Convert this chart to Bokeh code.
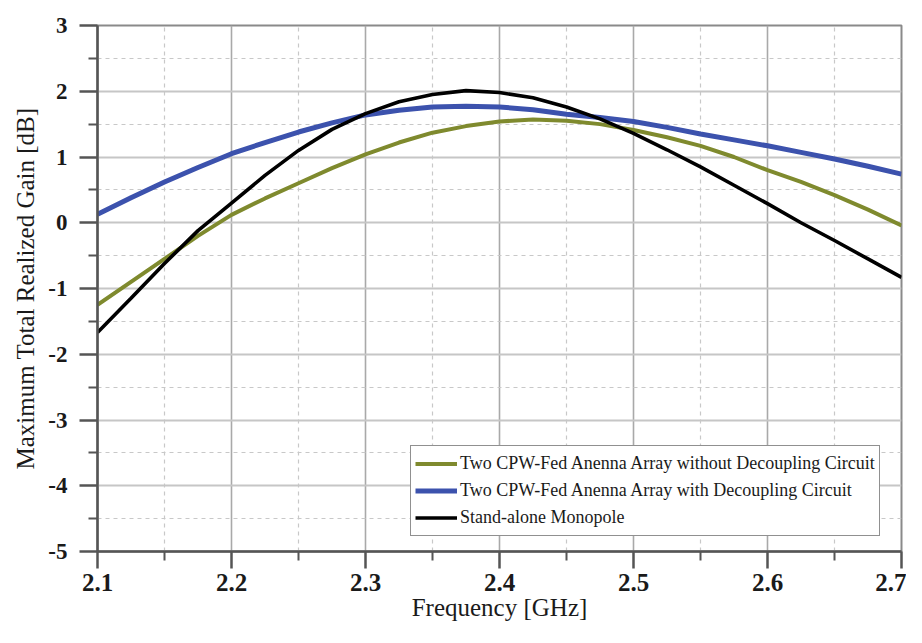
from bokeh.plotting import figure
from bokeh.models import FixedTicker, Range1d, Legend, LegendItem
from bokeh.embed import file_html
from bokeh.resources import INLINE

freq = [2.1, 2.125, 2.15, 2.175, 2.2, 2.225, 2.25, 2.275, 2.3, 2.325, 2.35, 2.375,
        2.4, 2.425, 2.45, 2.475, 2.5, 2.525, 2.55, 2.575, 2.6, 2.625, 2.65, 2.675, 2.7]

gain_without = [-1.25, -0.9, -0.55, -0.2, 0.12, 0.37, 0.6, 0.83, 1.04, 1.22, 1.37, 1.47,
                1.54, 1.57, 1.55, 1.5, 1.41, 1.3, 1.17, 1.0, 0.8, 0.62, 0.42, 0.2, -0.04]

gain_with = [0.13, 0.38, 0.62, 0.84, 1.05, 1.22, 1.38, 1.52, 1.64, 1.71, 1.76, 1.77,
             1.76, 1.72, 1.65, 1.6, 1.54, 1.45, 1.35, 1.26, 1.17, 1.07, 0.97, 0.86, 0.74]

gain_mono = [-1.67, -1.15, -0.62, -0.12, 0.3, 0.72, 1.1, 1.42, 1.66, 1.84, 1.95, 2.01,
             1.98, 1.9, 1.76, 1.58, 1.36, 1.11, 0.85, 0.57, 0.29, 0.0, -0.27, -0.55, -0.83]

x_ticks = [2.1, 2.2, 2.3, 2.4, 2.5, 2.6, 2.7]
x_tick_labels = ["2.1", "2.2", "2.3", "2.4", "2.5", "2.6", "2.7"]
x_minor = [2.15, 2.25, 2.35, 2.45, 2.55, 2.65]
y_ticks = [-5, -4, -3, -2, -1, 0, 1, 2, 3]
y_tick_labels = ["-5", "-4", "-3", "-2", "-1", "0", "1", "2", "3"]
y_minor = [-4.5, -3.5, -2.5, -1.5, -0.5, 0.5, 1.5, 2.5]

labels = ["Two CPW-Fed Anenna Array without Decoupling Circuit",
          "Two CPW-Fed Anenna Array with Decoupling Circuit",
          "Stand-alone Monopole"]
colors = ["#7f8a2e", "#3c52ad", "#000000"]
widths = [4, 5, 3.6]

p = figure(width=906, height=627, output_backend="svg", toolbar_location=None,
           x_range=Range1d(2.1, 2.7), y_range=Range1d(-5, 3),
           min_border_left=97, min_border_right=5, min_border_top=25, min_border_bottom=76)

p.background_fill_color = "white"
p.outline_line_color = "#8a8a8a"
p.outline_line_width = 2

r1 = p.line(freq, gain_without, line_color=colors[0], line_width=widths[0])
r2 = p.line(freq, gain_with, line_color=colors[1], line_width=widths[1])
r3 = p.line(freq, gain_mono, line_color=colors[2], line_width=widths[2])

p.xaxis.ticker = FixedTicker(ticks=x_ticks, minor_ticks=x_minor)
p.xaxis.major_label_overrides = {t: l for t, l in zip(x_ticks, x_tick_labels)}
p.yaxis.ticker = FixedTicker(ticks=y_ticks, minor_ticks=y_minor)
p.yaxis.major_label_overrides = {t: l for t, l in zip(y_ticks, y_tick_labels)}

for ax in (p.xaxis[0], p.yaxis[0]):
    ax.axis_line_color = "#555555"
    ax.axis_line_width = 2.5
    ax.major_tick_line_color = "#555555"
    ax.major_tick_line_width = 2.5
    ax.minor_tick_line_color = "#555555"
    ax.minor_tick_line_width = 2
    ax.major_tick_in = 0
    ax.minor_tick_in = 0
    ax.major_tick_out = 18
    ax.minor_tick_out = 9
    ax.major_label_text_font = "Liberation Serif"
    ax.major_label_text_font_style = "bold"
    ax.major_label_text_color = "#1a1a1a"
    ax.axis_label_text_font = "Liberation Serif"
    ax.axis_label_text_font_style = "normal"
    ax.axis_label_text_color = "#1a1a1a"

p.xaxis.major_tick_out = 17
p.xaxis.major_label_text_font_size = "25px"
p.yaxis.major_label_text_font_size = "23px"
p.xaxis.major_label_standoff = 5
p.yaxis.major_label_standoff = 12
p.xaxis.axis_label = "Frequency [GHz]"
p.yaxis.axis_label = "Maximum Total Realized Gain [dB]"
p.xaxis.axis_label_text_font_size = "25px"
p.yaxis.axis_label_text_font_size = "25px"
p.xaxis.axis_label_standoff = 0
p.yaxis.axis_label_standoff = 6

p.xgrid.grid_line_color = "#a9a9a9"
p.xgrid.grid_line_width = 1.6
p.ygrid.grid_line_color = "#c6c6c6"
p.ygrid.grid_line_width = 2
p.xgrid.minor_grid_line_color = "#c8c8c8"
p.ygrid.minor_grid_line_color = "#c8c8c8"
p.xgrid.minor_grid_line_dash = "4 4"
p.ygrid.minor_grid_line_dash = "4 4"
p.xgrid.minor_grid_line_width = 1.2
p.ygrid.minor_grid_line_width = 1.2

legend = Legend(items=[LegendItem(label=labels[0], renderers=[r1]),
                       LegendItem(label=labels[1], renderers=[r2]),
                       LegendItem(label=labels[2], renderers=[r3])],
                location=(313, 15))
legend.label_text_font = "Liberation Serif"
legend.label_text_font_size = "18px"
legend.label_text_color = "#1a1a1a"
legend.label_height = 27
legend.glyph_height = 27
legend.glyph_width = 42
legend.label_standoff = 3
legend.padding = 4
legend.spacing = 0
legend.margin = 0
legend.border_line_color = "#222222"
legend.border_line_width = 1.5
legend.background_fill_color = "white"
legend.background_fill_alpha = 1
p.add_layout(legend, "center")

open("out.html", "w").write(file_html(p, INLINE))
